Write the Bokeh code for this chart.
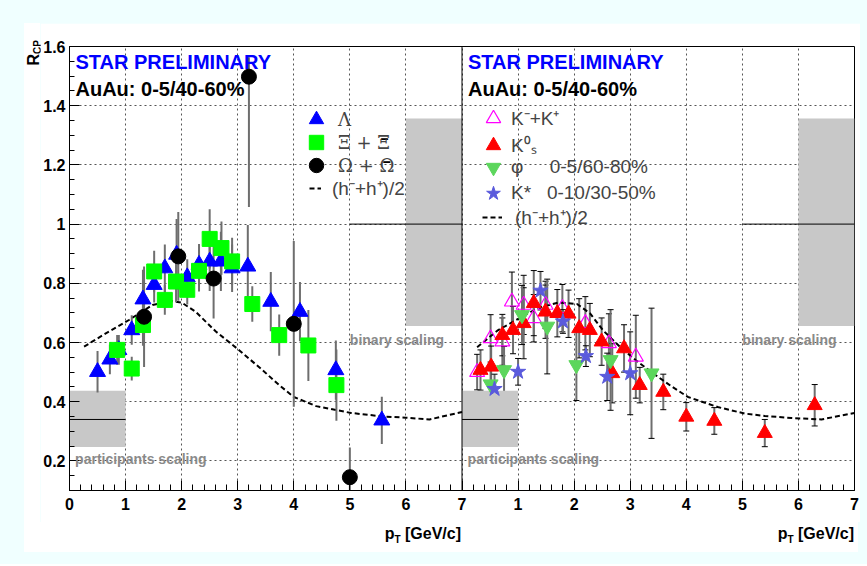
from bokeh.plotting import figure
from bokeh.models import (Range1d, FixedTicker, Label, Span, Legend, LegendItem,
                          ColumnDataSource, Whisker, TeeHead, Spacer, Div)
from bokeh.layouts import row, column
from bokeh.embed import file_html
from bokeh.resources import INLINE

# ---------------- data: left panel (strange baryons) ----------------
lam_pt = [0.50, 0.72, 0.88, 1.11, 1.31, 1.51, 1.70, 1.91, 2.10, 2.31, 2.50, 2.70, 2.90, 3.18, 3.59, 4.11, 4.75, 5.57]
lam_r = [0.501, 0.543, 0.575, 0.642, 0.746, 0.795, 0.851, 0.897, 0.821, 0.863, 0.874, 0.874, 0.851, 0.857, 0.738, 0.704, 0.507, 0.337]
lam_err = [0.07, 0.05, 0.05, 0.05, 0.10, 0.06, 0.08, 0.12, 0.06, 0.07, 0.10, 0.10, 0.08, 0.14, 0.10, 0.10, 0.10, 0.08]

xi_pt = [0.85, 1.11, 1.31, 1.51, 1.70, 1.90, 2.10, 2.31, 2.50, 2.71, 2.90, 3.26, 3.74, 4.26, 4.76]
xi_r = [0.575, 0.512, 0.659, 0.840, 0.744, 0.806, 0.778, 0.842, 0.950, 0.919, 0.874, 0.730, 0.625, 0.590, 0.456]
xi_err = [0.05, 0.04, 0.07, 0.07, 0.05, 0.07, 0.05, 0.07, 0.10, 0.09, 0.08, 0.06, 0.07, 0.12, 0.12]

om_pt = [1.33, 1.94, 2.57, 3.20, 4.00, 5.00]
om_r = [0.687, 0.891, 0.816, 1.498, 0.663, 0.145]
om_err_lo = [0.17, 0.15, 0.135, 0.44, 0.28, 0.10]
om_err_hi = [0.17, 0.15, 0.135, 0.066, 0.28, 0.10]

hl_pt = [0.26, 0.64, 1.06, 1.48, 1.83, 2.0, 2.25, 2.61, 3.02, 3.44, 3.74, 4.0, 4.4, 5.02, 5.6, 6.0, 6.42, 7.0]
hl_r = [0.586, 0.63, 0.676, 0.727, 0.740, 0.735, 0.704, 0.637, 0.575, 0.507, 0.456, 0.416, 0.385, 0.362, 0.35, 0.346, 0.340, 0.365]

# ---------------- data: right panel (mesons) ----------------
kch_pt = [0.27, 0.51, 0.72, 0.89, 1.10, 1.28, 1.49, 1.79, 2.20, 2.62, 3.10]
kch_r = [0.500, 0.614, 0.603, 0.738, 0.727, 0.682, 0.727, 0.716, 0.665, 0.597, 0.552]
kch_err = [0.06, 0.08, 0.08, 0.10, 0.10, 0.08, 0.08, 0.08, 0.09, 0.10, 0.14]

k0s_pt = [0.33, 0.52, 0.72, 0.91, 1.10, 1.28, 1.49, 1.70, 1.90, 2.09, 2.28, 2.49, 2.68, 2.89, 3.17, 3.59, 4.00, 4.50, 5.40, 6.29]
k0s_r = [0.507, 0.518, 0.625, 0.642, 0.665, 0.733, 0.704, 0.699, 0.697, 0.648, 0.642, 0.603, 0.496, 0.580, 0.456, 0.433, 0.349, 0.335, 0.294, 0.388]
k0s_err = [0.068, 0.07, 0.07, 0.08, 0.12, 0.11, 0.09, 0.08, 0.08, 0.10, 0.09, 0.08, 0.10, 0.08, 0.06, 0.06, 0.048, 0.045, 0.046, 0.07]

phi_pt = [0.51, 0.75, 1.07, 1.52, 2.04, 2.65, 3.38]
phi_r = [0.459, 0.507, 0.693, 0.654, 0.524, 0.541, 0.496]
phi_err = [0.05, 0.08, 0.10, 0.16, 0.12, 0.17, 0.22]

kst_pt = [0.58, 1.00, 1.40, 1.80, 2.21, 2.59, 3.00]
kst_r = [0.443, 0.501, 0.775, 0.671, 0.554, 0.484, 0.496]
kst_err = [0.05, 0.045, 0.065, 0.04, 0.035, 0.08, 0.14]

hr_pt = [0.27, 0.63, 1.0, 1.35, 1.72, 2.05, 2.28, 2.52, 2.82, 3.1, 3.45, 3.75, 4.03, 4.56, 5.04, 5.4, 5.87, 6.41, 7.0]
hr_r = [0.584, 0.64, 0.68, 0.716, 0.735, 0.73, 0.699, 0.64, 0.585, 0.54, 0.49, 0.45, 0.416, 0.382, 0.36, 0.352, 0.345, 0.34, 0.362]

# scaling bands (participants / binary)
band_left = [0, 6]
band_right = [1, 7]
band_bottom = [0.247, 0.656]
band_top = [0.437, 1.357]
scale_x0 = [0, 5]
scale_x1 = [1, 7]
scale_y = [0.34, 1.0]

x_tick_labels = ["0", "1", "2", "3", "4", "5", "6", "7"]
y_ticks = [0.2, 0.4, 0.6, 0.8, 1.0, 1.2, 1.4, 1.6]
y_tick_labels = ["0.2", "0.4", "0.6", "0.8", "1", "1.2", "1.4", "1.6"]

FONT = "Liberation Sans"

p = figure(frame_width=785, frame_height=444,
           x_range=Range1d(0, 14), y_range=Range1d(0.1, 1.6),
           output_backend="svg", toolbar_location=None,
           min_border_left=27, min_border_right=6, min_border_top=23, min_border_bottom=32,
           border_fill_color="white", background_fill_color="white",
           outline_line_color="black", outline_line_width=1)
p.extra_x_ranges = {"right": Range1d(-7, 7)}

# axes
xt = FixedTicker(ticks=list(range(0, 15)), minor_ticks=[i / 5 for i in range(0, 71) if i % 5])
p.xaxis.ticker = xt
p.xgrid.ticker = xt
ov = {i: x_tick_labels[i] for i in range(8)}
ov.update({7 + i: x_tick_labels[i] for i in range(1, 8)})
p.xaxis.major_label_overrides = ov
yt = FixedTicker(ticks=y_ticks, minor_ticks=[round(0.1 + 0.05 * i, 2) for i in range(31)])
p.yaxis.ticker = yt
p.ygrid.ticker = yt
p.yaxis.major_label_overrides = dict(zip(y_ticks, y_tick_labels))

for ax in (p.xaxis, p.yaxis):
    ax.major_tick_out = 0
    ax.minor_tick_out = 0
    ax.axis_line_color = "black"
    ax.major_tick_line_color = "black"
    ax.minor_tick_line_color = "black"
    ax.major_label_text_font = FONT
    ax.major_label_text_font_style = "bold"
    ax.major_label_text_font_size = "16px"
    ax.major_label_text_color = "black"
p.xaxis.major_tick_in = 10
p.xaxis.minor_tick_in = 6
p.xaxis.major_label_standoff = 7
p.yaxis.major_tick_in = 10
p.yaxis.minor_tick_in = 5
p.yaxis.major_label_standoff = 4

for g in (p.xgrid, p.ygrid):
    g.grid_line_color = "#555555"
    g.grid_line_dash = "2 3"
    g.grid_line_width = 1

# scaling bands and lines
for rn in ("default", "right"):
    p.quad(left=band_left, right=band_right, bottom=band_bottom, top=band_top,
           fill_color="#c8c8c8", line_color=None, x_range_name=rn)
    p.segment(x0=scale_x0, x1=scale_x1, y0=scale_y, y1=scale_y,
              line_color="black", line_width=1, x_range_name=rn)

p.add_layout(Span(location=7, dimension="height", line_color="black", line_width=1))

# ---- left panel ----
def seg_err(x, y, lo, hi):
    p.segment(x0=x, x1=x, y0=[a - b for a, b in zip(y, lo)], y1=[a + b for a, b in zip(y, hi)],
              line_color="#6e6e6e", line_width=2)

r_hl = p.line(hl_pt, hl_r, line_color="black", line_width=2, line_dash="5 3")
seg_err(lam_pt, lam_r, lam_err, lam_err)
seg_err(xi_pt, xi_r, xi_err, xi_err)
seg_err(om_pt, om_r, om_err_lo, om_err_hi)
r_lam = p.scatter(lam_pt, lam_r, marker="triangle", size=16, fill_color="#0000ff", line_color="#0000ff")
r_xi = p.scatter(xi_pt, xi_r, marker="square", size=15, fill_color="#00ff00", line_color="#00ff00")
r_om = p.scatter(om_pt, om_r, marker="circle", size=15, fill_color="black", line_color="black")

# ---- right panel ----
r_hr = p.line(hr_pt, hr_r, line_color="black", line_width=2, line_dash="5 3", x_range_name="right")

def whisk(x, y, e):
    src = ColumnDataSource(dict(x=x, lo=[a - b for a, b in zip(y, e)], hi=[a + b for a, b in zip(y, e)]))
    w = Whisker(source=src, base="x", lower="lo", upper="hi", dimension="height",
                line_color="#6e6e6e", line_width=2, x_range_name="right", level="underlay",
                lower_head=TeeHead(size=6, line_color="black", line_width=1),
                upper_head=TeeHead(size=6, line_color="black", line_width=1))
    p.add_layout(w)

whisk(kch_pt, kch_r, kch_err)
whisk(k0s_pt, k0s_r, k0s_err)
whisk(phi_pt, phi_r, phi_err)
whisk(kst_pt, kst_r, kst_err)
r_kch = p.scatter(kch_pt, kch_r, marker="triangle", size=15, fill_color=None, line_color="#ff00ff",
                  line_width=1.2, x_range_name="right")
r_k0s = p.scatter(k0s_pt, k0s_r, marker="triangle", size=15, fill_color="#ff0000", line_color="#ff0000",
                  x_range_name="right")
r_phi = p.scatter(phi_pt, phi_r, marker="inverted_triangle", size=15, fill_color="#5cd65c",
                  line_color="#5cd65c", x_range_name="right")
r_kst = p.scatter(kst_pt, kst_r, marker="star", size=16, fill_color="#5a5adc", line_color="#5a5adc",
                  x_range_name="right")

# ---- legends (one entry per box so the rows can sit close together) ----
NB = "\u00a0"
FRAME_LEFT, FRAME_BOTTOM = 67, 490

def leg(label, rend, cx, cy, gw=36, standoff=4, font=FONT, size="19px"):
    lg = Legend(items=[LegendItem(label=label, renderers=[rend])],
                location=(cx - FRAME_LEFT - gw // 2, FRAME_BOTTOM - cy - 18),
                glyph_width=gw, glyph_height=36, padding=0, margin=0, spacing=0,
                label_standoff=standoff, label_text_font=font, label_text_font_size=size,
                background_fill_alpha=0, border_line_alpha=0)
    p.add_layout(lg)

leg("\u039b", r_lam, 314, 119, font="DejaVu Serif", size="18px")
leg("\u039e + \u039e", r_xi, 314, 142, font="DejaVu Serif", size="18px")
leg("\u03a9 + \u03a9", r_om, 314, 165, font="DejaVu Serif", size="18px")
leg("(h\u207b+h\u207a)/2", r_hl, 313, 188, gw=12, standoff=11)

# bars over the anti-particle symbols in the legend labels
for bx, by in ((5.618, 1.258), (5.66, 1.18)):
    p.add_layout(Label(x=bx, y=by, text="\u00af", text_font="DejaVu Serif", text_font_size="24px",
                       text_align="center", text_baseline="alphabetic", text_color="black"))

leg("K\u207b+K\u207a", r_kch, 491, 118, standoff=0)
leg("K\u2070\u209b", r_k0s, 491, 145, standoff=0)
leg("\u03c6" + NB * 5 + "0-5/60-80%", r_phi, 491, 167, standoff=0)
leg("K*" + NB * 3 + "0-10/30-50%", r_kst, 491, 193, standoff=0)
leg("(h\u207b+h\u207a)/2", r_hr, 490, 217, gw=20, standoff=13)

# ---- texts inside the frame ----
for rn in ("default", "right"):
    p.add_layout(Label(x=0, y=1.6, x_offset=6, y_offset=-15, text="STAR PRELIMINARY",
                       text_color="#0000ff", text_font=FONT, text_font_style="bold",
                       text_font_size="20px", text_baseline="alphabetic", x_range_name=rn))
    p.add_layout(Label(x=0, y=1.6, x_offset=6, y_offset=-42, text="AuAu: 0-5/40-60%",
                       text_color="black", text_font=FONT, text_font_style="bold",
                       text_font_size="20px", text_baseline="alphabetic", x_range_name=rn))
    p.add_layout(Label(x=5.0, y=0.608, text="binary scaling", text_color="#8a8a8a",
                       text_font=FONT, text_font_style="bold", text_font_size="14px",
                       text_baseline="alphabetic", x_range_name=rn))
    p.add_layout(Label(x=0.1, y=0.208, text="participants scaling", text_color="#8a8a8a",
                       text_font=FONT, text_font_style="bold", text_font_size="14px",
                       text_baseline="alphabetic", x_range_name=rn))

# ---- axis titles (outside the frame) ----
ytitle = Div(text=("<div style=\"margin-top:17px;margin-left:2px;writing-mode:vertical-rl;"
                   "transform:rotate(180deg);font-family:'Liberation Sans';font-weight:bold;"
                   "font-size:16px;line-height:16px;color:black;\">R<sub style=\"font-size:10px;\">CP</sub></div>"),
             width=16, height=499, margin=0, styles={"background-color": "white"})

xt_html = "p<sub style=\"font-size:10px;\">T</sub> [GeV/c]"
xtitle = Div(text=("<div style=\"position:relative;width:834px;height:30px;font-family:'Liberation Sans';"
                   "font-weight:bold;font-size:16px;color:black;\">"
                   "<span style=\"position:absolute;right:397px;top:1px;white-space:nowrap;\">" + xt_html + "</span>"
                   "<span style=\"position:absolute;right:4px;top:1px;white-space:nowrap;\">" + xt_html + "</span></div>"),
             width=834, height=30, margin=0, styles={"background-color": "white"})

layout = column(Spacer(height=23),
                row(Spacer(width=24), ytitle, p, Spacer(width=7)),
                row(Spacer(width=24), xtitle, Spacer(width=7)),
                Spacer(height=12),
                styles={"background-color": "#f0ffff"})

open("out.html", "w").write(file_html(layout, INLINE))
